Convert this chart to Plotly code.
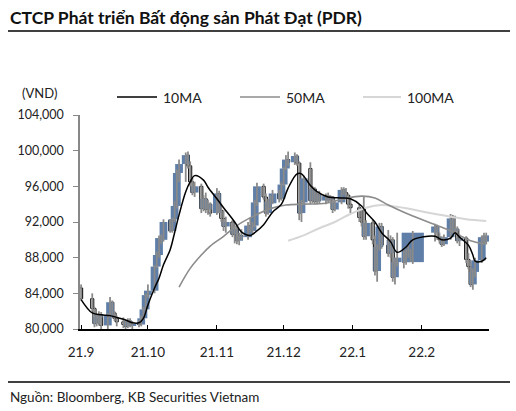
import pandas as pd
import plotly.graph_objects as go

# ---------------- data (thousand VND) ----------------
holidays = ["2021-09-02", "2021-09-03", "2022-01-03", "2022-01-31",
            "2022-02-01", "2022-02-02", "2022-02-03", "2022-02-04"]
trade_dates = [d for d in pd.bdate_range("2021-09-01", "2022-03-02")
               if d.strftime("%Y-%m-%d") not in holidays]

open_sep = [84.6, 83.4, 82.3, 80.6, 81.3, 81.6, 80.4, 81.5, 83.0, 81.8, 81.2, 80.8, 80.5, 80.3, 80.9, 80.4, 80.6, 80.5, 81.2, 82.2]
high_sep = [85.0, 84.0, 82.5, 81.6, 82.0, 81.9, 81.8, 83.6, 83.2, 82.0, 81.5, 81.3, 81.0, 81.2, 81.2, 80.9, 81.0, 81.5, 82.5, 84.0]
low_sep = [83.2, 82.0, 80.2, 80.3, 80.4, 80.0, 80.0, 81.2, 81.5, 80.9, 80.3, 80.1, 80.0, 80.1, 80.2, 80.0, 80.2, 80.3, 81.0, 82.0]
close_sep = [83.4, 82.3, 80.6, 81.3, 81.6, 80.4, 81.5, 83.0, 81.8, 81.2, 80.8, 80.5, 80.3, 80.9, 80.4, 80.6, 80.5, 81.2, 82.2, 83.8]

open_oct = [83.8, 84.3, 87.0, 88.3, 90.2, 90.0, 92.2, 91.0, 92.3, 93.8, 97.5, 98.5, 99.5, 98.3, 96.5, 95.3, 96.0, 93.5, 94.6, 93.4, 94.0]
high_oct = [85.0, 87.2, 88.7, 90.5, 90.6, 92.3, 92.3, 92.5, 94.4, 97.9, 99.0, 99.8, 99.9, 98.8, 97.0, 96.5, 96.3, 95.0, 95.3, 94.5, 94.2]
low_oct = [83.5, 84.0, 86.8, 88.0, 89.5, 89.8, 90.8, 90.8, 92.0, 93.5, 96.5, 96.5, 98.0, 96.0, 95.0, 94.8, 93.0, 93.2, 93.0, 92.8, 92.6]
close_oct = [84.3, 87.0, 88.3, 90.2, 90.0, 92.0, 91.0, 92.3, 93.8, 97.5, 98.5, 99.5, 98.3, 96.5, 95.3, 96.0, 93.5, 94.6, 93.4, 94.0, 93.0]

open_nov = [93.0, 95.2, 93.3, 92.4, 91.5, 92.0, 90.6, 91.2, 89.9, 90.5, 90.3, 91.6, 91.0, 91.6, 94.2, 96.0, 94.8, 93.0, 94.3, 94.1, 95.2, 94.6]
high_nov = [95.8, 95.5, 93.8, 93.3, 92.6, 92.2, 91.6, 91.5, 90.8, 91.2, 92.0, 92.5, 92.0, 94.5, 96.4, 96.3, 95.2, 94.6, 95.0, 95.6, 95.6, 96.5]
low_nov = [92.8, 93.0, 92.0, 91.0, 90.8, 90.3, 89.6, 89.5, 89.4, 90.0, 90.0, 90.8, 90.6, 91.4, 93.8, 94.5, 92.6, 92.8, 93.5, 94.0, 94.2, 94.4]
close_nov = [95.2, 93.3, 92.4, 91.5, 92.0, 90.6, 91.2, 89.9, 90.5, 90.3, 91.6, 91.0, 91.6, 94.2, 96.0, 94.8, 93.0, 94.3, 94.1, 95.2, 94.6, 96.2]

open_dec = [96.2, 98.0, 99.0, 98.7, 99.4, 98.6, 93.0, 94.2, 98.0, 94.4, 95.7, 94.3, 95.1, 94.4, 94.9, 94.5, 94.8, 93.4, 94.2, 95.6, 95.3, 95.0, 94.0]
high_dec = [98.2, 99.5, 99.9, 99.8, 99.6, 98.8, 94.5, 97.2, 98.7, 96.0, 95.9, 95.4, 95.5, 95.2, 95.3, 95.0, 94.9, 94.5, 95.9, 95.9, 95.8, 95.2, 94.6]
low_dec = [96.0, 97.8, 98.3, 98.4, 98.3, 92.2, 92.0, 94.0, 94.0, 94.1, 94.0, 94.0, 94.1, 94.0, 94.2, 94.1, 93.0, 93.2, 94.0, 95.0, 94.8, 93.5, 93.0]
close_dec = [98.0, 99.0, 98.7, 99.4, 98.6, 93.0, 94.2, 96.9, 94.4, 95.7, 94.3, 95.1, 94.4, 94.9, 94.5, 94.8, 93.4, 94.2, 95.6, 95.3, 95.0, 94.0, 93.6]

open_jan = [93.6, 92.5, 93.5, 90.4, 91.9, 90.0, 86.5, 89.2, 91.5, 89.4, 88.5, 90.0, 85.8, 87.5, 88.0, 87.5, 88.6, 88.4, 87.5]
high_jan = [94.0, 93.5, 94.8, 92.2, 92.2, 90.5, 89.5, 91.9, 91.9, 91.1, 90.5, 90.3, 88.0, 90.8, 88.8, 89.0, 89.5, 89.0, 91.0]
low_jan = [92.0, 91.5, 90.0, 90.0, 89.5, 86.0, 85.3, 88.8, 89.0, 88.1, 88.0, 85.3, 85.0, 87.0, 86.8, 87.2, 88.0, 87.5, 87.3]
close_jan = [92.5, 92.0, 90.4, 91.9, 90.0, 86.5, 89.2, 91.5, 89.4, 88.5, 90.0, 85.8, 87.5, 88.0, 87.5, 88.6, 88.4, 87.6, 90.8]

open_feb = [90.8, 91.5, 90.3, 90.0, 89.5, 90.3, 92.4, 91.0, 91.2, 89.9, 90.2, 87.8, 87.0, 85.0, 86.4, 87.7, 90.3, 89.8]
high_feb = [91.8, 91.7, 90.8, 90.4, 90.6, 92.9, 92.8, 92.7, 91.5, 90.6, 90.4, 88.5, 87.4, 86.8, 88.0, 90.5, 90.8, 90.8]
low_feb = [89.8, 90.0, 89.6, 89.2, 89.3, 90.0, 90.8, 90.8, 89.6, 89.3, 87.4, 86.7, 84.7, 84.4, 85.8, 87.4, 89.6, 89.5]
close_feb = [91.5, 90.3, 90.0, 89.5, 90.3, 92.4, 91.0, 91.2, 89.9, 90.2, 87.8, 87.0, 85.0, 86.4, 87.7, 90.3, 89.8, 90.5]

ma10_dates = ["2021-09-01", "2021-09-06", "2021-09-10", "2021-09-14", "2021-09-17", "2021-09-21", "2021-09-24",
              "2021-09-27", "2021-09-29", "2021-10-01", "2021-10-04", "2021-10-06", "2021-10-08", "2021-10-11",
              "2021-10-13", "2021-10-15", "2021-10-18", "2021-10-20", "2021-10-22", "2021-10-26", "2021-10-28",
              "2021-11-01", "2021-11-04", "2021-11-09", "2021-11-12", "2021-11-16", "2021-11-18", "2021-11-22",
              "2021-11-26", "2021-11-30", "2021-12-03", "2021-12-07", "2021-12-09", "2021-12-13", "2021-12-16",
              "2021-12-21", "2021-12-27", "2021-12-31", "2022-01-05", "2022-01-07", "2022-01-11", "2022-01-14",
              "2022-01-18", "2022-01-21", "2022-01-25", "2022-01-28", "2022-02-07", "2022-02-10", "2022-02-14",
              "2022-02-16", "2022-02-18", "2022-02-22", "2022-02-24", "2022-02-25", "2022-02-28", "2022-03-02"]
ma10_vals = [83.3, 81.8, 81.6, 81.5, 81.3, 81.0, 80.7,
             80.7, 81.2, 82.7, 84.6, 85.7, 87.2, 88.9,
             90.8, 92.8, 95.4, 96.5, 97.2, 96.7, 95.9,
             94.6, 93.6, 92.0, 90.9, 90.5, 90.8, 91.7,
             93.1, 94.0, 95.8, 97.4, 97.4, 96.1, 95.4,
             94.8, 94.7, 94.6, 93.8, 93.1, 92.0, 90.8,
             89.8, 88.6, 89.2, 90.0, 90.4, 90.0, 90.2,
             90.8, 90.3, 89.4, 88.3, 87.6, 87.6, 88.0]

ma50_dates = ["2021-10-15", "2021-10-20", "2021-10-25", "2021-10-29", "2021-11-04", "2021-11-10", "2021-11-17",
              "2021-11-25", "2021-12-02", "2021-12-10", "2021-12-20", "2021-12-28", "2022-01-05", "2022-01-11",
              "2022-01-17", "2022-01-24", "2022-02-07", "2022-02-14", "2022-02-18", "2022-02-23", "2022-03-02"]
ma50_vals = [84.7, 86.8, 88.3, 89.3, 90.4, 91.6, 92.6,
             93.5, 93.9, 94.0, 94.1, 94.6, 94.9, 94.7,
             93.9, 93.1, 91.7, 91.0, 90.5, 89.9, 89.5]

ma100_dates = ["2021-12-03", "2021-12-10", "2021-12-17", "2021-12-24", "2021-12-31", "2022-01-07", "2022-01-14",
               "2022-01-21", "2022-02-07", "2022-02-14", "2022-02-21", "2022-03-02"]
ma100_vals = [89.9, 90.5, 91.3, 92.0, 92.9, 93.6, 93.9,
              93.7, 92.9, 92.6, 92.3, 92.1]

month_ticks = ["2021-09-01", "2021-10-01", "2021-11-01", "2021-12-01", "2022-01-01", "2022-02-01"]
month_labels = ["21.9", "21.10", "21.11", "21.12", "22.1", "22.2"]
y_ticks = [80000, 84000, 88000, 92000, 96000, 100000, 104000]

# ---------------- assemble ----------------
opens = open_sep + open_oct + open_nov + open_dec + open_jan + open_feb
highs = high_sep + high_oct + high_nov + high_dec + high_jan + high_feb
lows = low_sep + low_oct + low_nov + low_dec + low_jan + low_feb
closes = close_sep + close_oct + close_nov + close_dec + close_jan + close_feb
assert len(opens) == len(trade_dates) == len(closes) == len(highs) == len(lows), (len(opens), len(trade_dates))

K = 1000
DAY = 86400000
gaps = [(trade_dates[i + 1] - trade_dates[i]).days for i in range(len(trade_dates) - 1)] + [1]

up_x, up_base, up_h, up_w = [], [], [], []
dn_x, dn_base, dn_h = [], [], []
wx, wy = [], []
for d, o, h, l, c, g in zip(trade_dates, opens, highs, lows, closes, gaps):
    wx += [d, d, None]
    wy += [l * K, h * K, None]
    if c >= o:
        up_x.append(d); up_base.append(o * K); up_h.append(max(c - o, 0.2) * K)
        up_w.append(max(g, 3.5) * DAY)
    else:
        dn_x.append(d); dn_base.append(c * K); dn_h.append((o - c) * K)

BLUE = "#5F7FA8"
fig = go.Figure()
fig.add_trace(go.Scatter(x=wx, y=wy, mode="lines", line=dict(color="#8A8A8A", width=1.8), hoverinfo="skip"))
fig.add_trace(go.Bar(x=dn_x, y=dn_h, base=dn_base, width=[1.4 * DAY] * len(dn_x),
                     marker=dict(color="white", line=dict(color="black", width=1)), hoverinfo="skip"))
fig.add_trace(go.Bar(x=up_x, y=up_h, base=up_base, width=up_w, marker=dict(color=BLUE, line=dict(width=0)),
                     hoverinfo="skip"))
fig.add_trace(go.Scatter(x=ma100_dates, y=[v * K for v in ma100_vals], mode="lines",
                         line=dict(color="#D6D6D6", width=2, shape="spline"), name="100MA"))
fig.add_trace(go.Scatter(x=ma50_dates, y=[v * K for v in ma50_vals], mode="lines",
                         line=dict(color="#8C8C8C", width=1.6, shape="spline"), name="50MA"))
fig.add_trace(go.Scatter(x=ma10_dates, y=[v * K for v in ma10_vals], mode="lines",
                         line=dict(color="black", width=1.5, shape="spline"), name="10MA"))

FONT = "Lato"
L, R, T, B = 80, 27, 115, 82
W, H = 516, 411
PW, PH = W - L - R, H - T - B


def fx(px):
    return (px - L) / PW


def fy(py):
    return (H - B - py) / PH


fig.update_layout(
    width=W, height=H, margin=dict(l=L, r=R, t=T, b=B, pad=0),
    paper_bgcolor="white", plot_bgcolor="white", showlegend=False, barmode="overlay",
    font=dict(family=FONT, size=12.5, color="#222222"),
    xaxis=dict(type="date", range=["2021-08-31 12:00", "2022-03-03 06:00"],
               tickvals=month_ticks, ticktext=month_labels, ticks="inside", ticklen=4,
               tickcolor="black", showline=True, linecolor="black", linewidth=1.5,
               showgrid=False, zeroline=False, tickfont=dict(size=13.5), ticklabelstandoff=10),
    yaxis=dict(range=[80000, 104000], tickvals=y_ticks, tickformat=",", ticks="outside",
               ticklen=5, tickcolor="#888888", showline=True, linecolor="#888888", linewidth=1.5,
               showgrid=False, zeroline=False, tickfont=dict(size=12.5), ticklabelstandoff=7),
)

shapes = [
    dict(type="line", xref="paper", yref="paper", x0=fx(8), x1=fx(510), y0=fy(31), y1=fy(31),
         line=dict(color="black", width=1.5)),
    dict(type="line", xref="paper", yref="paper", x0=fx(8), x1=fx(510), y0=fy(382), y1=fy(382),
         line=dict(color="black", width=1.5)),
    dict(type="line", xref="paper", yref="paper", x0=fx(117), x1=fx(157), y0=fy(97), y1=fy(97),
         line=dict(color="black", width=1.5)),
    dict(type="line", xref="paper", yref="paper", x0=fx(240), x1=fx(280), y0=fy(97), y1=fy(97),
         line=dict(color="#8C8C8C", width=1.6)),
    dict(type="line", xref="paper", yref="paper", x0=fx(363), x1=fx(401), y0=fy(97), y1=fy(97),
         line=dict(color="#D6D6D6", width=2)),
]
ann = [
    dict(text="<b>CTCP Phát triển Bất động sản Phát Đạt (PDR)</b>", x=fx(8), y=fy(18), xanchor="left",
         yanchor="middle", font=dict(size=17.5, color="#111111")),
    dict(text="(VND)", x=fx(20), y=fy(93), xanchor="left", yanchor="middle", font=dict(size=13)),
    dict(text="10MA", x=fx(161), y=fy(97), xanchor="left", yanchor="middle", font=dict(size=14)),
    dict(text="50MA", x=fx(284), y=fy(97), xanchor="left", yanchor="middle", font=dict(size=14)),
    dict(text="100MA", x=fx(405), y=fy(97), xanchor="left", yanchor="middle", font=dict(size=14)),
    dict(text="Nguồn: Bloomberg, KB Securities Vietnam", x=fx(8), y=fy(397), xanchor="left",
         yanchor="middle", font=dict(size=13.5)),
]
for a in ann:
    a.update(xref="paper", yref="paper", showarrow=False)
fig.update_layout(shapes=shapes, annotations=ann)

fig.write_html("out.html", config={"displayModeBar": False},
               post_script="document.body.style.margin='0';document.body.style.padding='0';")
